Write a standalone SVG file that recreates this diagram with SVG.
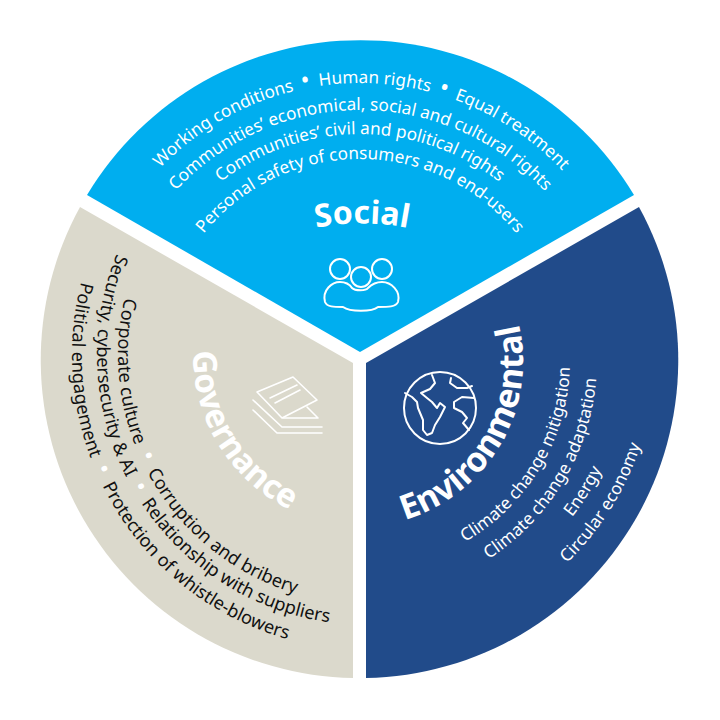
<svg xmlns="http://www.w3.org/2000/svg" width="720" height="720" viewBox="0 0 720 720">
<style>
text{font-family:"Noto Sans","Open Sans","Liberation Sans",sans-serif;}
.w{fill:#fff}.k{fill:#111}
.s{font-size:17.2px}
.g{font-size:18.1px}
.t{font-size:32px;font-weight:700;fill:#fff}
.b{font-size:24px;word-spacing:2px}
.d{font-size:24px;word-spacing:4px;fill:#fff}
.i{fill:none;stroke:#fff;stroke-width:2;stroke-linejoin:round;stroke-linecap:round}
.j{fill:none;stroke:#fff;stroke-width:1.6;stroke-linejoin:round;stroke-linecap:round}
</style>
<defs>
<path id="s1" d="M120.100 221.500A277 277 0 0 1 599.900 221.500"/>
<path id="s2" d="M143.500 235A250 250 0 0 1 576.500 235"/>
<path id="s3" d="M164.300 247A226 226 0 0 1 555.700 247"/>
<path id="s4" d="M185.900 259.500A201 201 0 0 1 534.100 259.500"/>
<path id="st" d="M302 231A240 240 0 0 1 422 231"/>
<path id="g1" d="M151.400 230.500A249 249 0 0 0 367 604"/>
<path id="g2" d="M133.200 220A270 270 0 0 0 367 625"/>
<path id="g3" d="M111.500 207.500A295 295 0 0 0 367 650"/>
<path id="gt" d="M215.300 270.300A172 172 0 0 0 366.500 527"/>
<path id="e1" d="M352.700 569.900A210 210 0 0 0 545.400 261.400"/>
<path id="e2" d="M351.700 596.900A237 237 0 0 0 569.200 248.700"/>
<path id="e3" d="M355.800 617.800A263 263 0 0 0 597.200 231.500"/>
<path id="e4" d="M354.900 644.800A290 290 0 0 0 621 218.800"/>
<path id="et" d="M351.200 526.900A166 166 0 0 0 503.600 283.100"/>
</defs>
<g id="social">
<path d="M87 195A319 319 0 0 1 634 195L360 352Z" fill="#00aeef"/>
<text class="w s"><textPath href="#s1" startOffset="50.300%" text-anchor="middle">Working conditions<tspan class="b"> • </tspan>Human rights<tspan class="b"> • </tspan>Equal treatment</textPath></text>
<text class="w s"><textPath href="#s2" startOffset="50.100%" text-anchor="middle">Communities’ economical, social and cultural rights</textPath></text>
<text class="w s"><textPath href="#s3" startOffset="50%" text-anchor="middle">Communities’ civil and political rights</textPath></text>
<text class="w s"><textPath href="#s4" startOffset="50%" text-anchor="middle">Personal safety of consumers and end-users</textPath></text>
<text class="t"><textPath href="#st" startOffset="50%" text-anchor="middle">Social</textPath></text>
<g class="i">
<circle cx="340" cy="269" r="10"/><circle cx="382" cy="269" r="10"/><circle cx="361" cy="277" r="10"/>
<path d="M325 302C322 290 332 282 340 282C346 282 350 285 352 288C355 291 366 291 368 288C371 285 376 282 382 282C391 282 401 291 398 302C396 307 388 307 378 307C372 312 350 312 343 307C334 307 327 307 325 302Z"/>
</g>
</g>
<g id="governance">
<path d="M80 207L353 363V678A318 318 0 0 1 80 207Z" fill="#dbd9cc"/>
<text class="k g"><textPath href="#g1" startOffset="50%" text-anchor="middle">Corporate culture<tspan class="d"> • </tspan>Corruption and bribery</textPath></text>
<text class="k g"><textPath href="#g2" startOffset="50%" text-anchor="middle">Security, cybersecurity &amp; AI<tspan class="d"> • </tspan>Relationship with suppliers</textPath></text>
<text class="k g"><textPath href="#g3" startOffset="50%" text-anchor="middle">Political engagement<tspan class="d"> • </tspan>Protection of whistle-blowers</textPath></text>
<text class="t" style="font-size:33px"><textPath href="#gt" startOffset="50.800%" text-anchor="middle">Governance</textPath></text>
<g class="j">
<path d="M257 392L293 377L317 400L282 418Z"/>
<path d="M270 398L297 385M275 403L300 390"/>
<path d="M307 407L318 418H283"/>
<path d="M253 400L282 427H322M253 410L277 433H322"/>
</g>
</g>
<g id="environmental">
<path d="M366 363L639 207A318 318 0 0 1 366 678Z" fill="#214b8a"/>
<text class="w s"><textPath href="#e1" startOffset="50.800%" text-anchor="middle">Climate change mitigation</textPath></text>
<text class="w s"><textPath href="#e2" startOffset="51%" text-anchor="middle">Climate change adaptation</textPath></text>
<text class="w s"><textPath href="#e3" startOffset="50%" text-anchor="middle">Energy</textPath></text>
<text class="w s"><textPath href="#e4" startOffset="50%" text-anchor="middle">Circular economy</textPath></text>
<text class="t" style="font-size:34px"><textPath href="#et" startOffset="51.500%" text-anchor="middle">Environmental</textPath></text>
<g class="i">
<circle cx="440" cy="408" r="36"/>
<path d="M405 393L412 397L417 402L418 408L423 420L423 430L427 435L432 433L435 425L440 417L445 407L440 403L437 408L432 402L427 398L421 393L430 389L435 383L432 375"/>
<path d="M451 378L450 383L457 388L467 388L472 386"/>
<path d="M474 398L462 397L454 402L454 408L462 412L467 418L463 423L469 430"/>
</g>
</g>
</svg>
